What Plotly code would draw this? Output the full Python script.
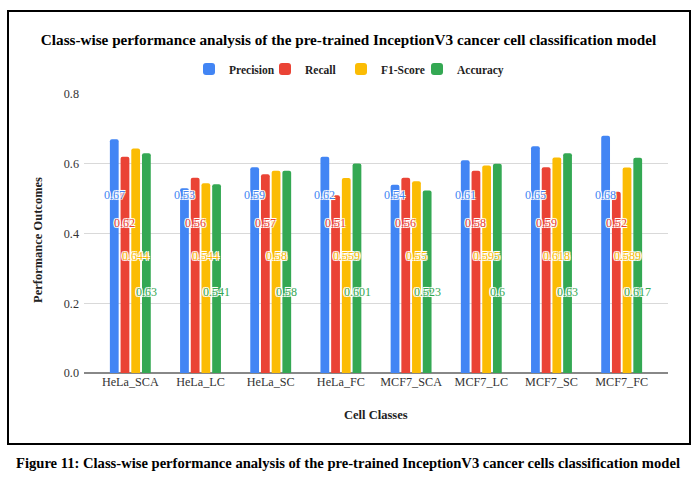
import plotly.graph_objects as go

categories = ["HeLa_SCA", "HeLa_LC", "HeLa_SC", "HeLa_FC", "MCF7_SCA", "MCF7_LC", "MCF7_SC", "MCF7_FC"]
precision = [0.67, 0.53, 0.59, 0.62, 0.54, 0.61, 0.65, 0.68]
recall = [0.62, 0.56, 0.57, 0.51, 0.56, 0.58, 0.59, 0.52]
f1_score = [0.644, 0.544, 0.58, 0.559, 0.55, 0.595, 0.618, 0.589]
accuracy = [0.63, 0.541, 0.58, 0.601, 0.523, 0.6, 0.63, 0.617]
label_text = {
    "Precision": ["0.67", "0.53", "0.59", "0.62", "0.54", "0.61", "0.65", "0.68"],
    "Recall": ["0.62", "0.56", "0.57", "0.51", "0.56", "0.58", "0.59", "0.52"],
    "F1-Score": ["0.644", "0.544", "0.58", "0.559", "0.55", "0.595", "0.618", "0.589"],
    "Accuracy": ["0.63", "0.541", "0.58", "0.601", "0.523", "0.6", "0.63", "0.617"],
}
y_ticks = [0.0, 0.2, 0.4, 0.6, 0.8]

series = [
    ("Precision", precision, "#4285F4", 0.51),
    ("Recall", recall, "#EA4335", 0.43),
    ("F1-Score", f1_score, "#FBBC04", 0.335),
    ("Accuracy", accuracy, "#34A853", 0.232),
]

SERIF = "Liberation Serif"
W, H = 697, 482
L, R, T, B = 84, 29, 94, 109
PW, PH = W - L - R, H - T - B


def px_x(px):
    return (px - L) / PW


def px_y(py):
    return (H - B - py) / PH


fig = go.Figure()
for name, vals, color, _ in series:
    fig.add_trace(go.Bar(x=categories, y=vals, name=name, marker=dict(color=color, line=dict(width=0)),
                         hoverinfo="x+y+name"))
# invisible spacer legend entry so the last legend label is not clipped by entrywidth
fig.add_trace(go.Scatter(x=[None], y=[None], name=" ", mode="markers",
                         marker=dict(color="rgba(0,0,0,0)", size=1), hoverinfo="skip"))

# data labels (staggered, white outline)
slot_px = 10.75
shadow = "-1px -1px 0 #fff, 1px -1px 0 #fff, -1px 1px 0 #fff, 1px 1px 0 #fff, 0 0 2px #fff"
for i, (name, vals, color, ly) in enumerate(series):
    off = (i - 1.5) * slot_px
    for cat, txt in zip(categories, label_text[name]):
        fig.add_annotation(x=cat, y=ly, text=txt, showarrow=False, xshift=off,
                           font=dict(family=SERIF, size=12, color=color, shadow=shadow))

# outer frame
fig.add_shape(type="rect", xref="paper", yref="paper", x0=px_x(8), x1=px_x(690), y0=px_y(444), y1=px_y(11),
              line=dict(color="black", width=2), fillcolor="rgba(0,0,0,0)", layer="below")

# axis titles
fig.add_annotation(xref="paper", yref="paper", x=px_x(376), y=px_y(415), text="<b>Cell Classes</b>",
                   showarrow=False, xanchor="center", yanchor="middle",
                   font=dict(family=SERIF, size=12.5, color="#222"))
fig.add_annotation(xref="paper", yref="paper", x=px_x(38), y=px_y(240), text="<b>Performance Outcomes</b>",
                   showarrow=False, xanchor="center", yanchor="middle", textangle=-90,
                   font=dict(family=SERIF, size=12.5, color="#222"))

# caption
fig.add_annotation(xref="paper", yref="paper", x=px_x(348), y=px_y(463),
                   text="<b>Figure 11: Class-wise performance analysis of the pre-trained InceptionV3 cancer cells classification model</b>",
                   showarrow=False, xanchor="center", yanchor="middle",
                   font=dict(family=SERIF, size=14.6, color="black"))

fig.update_layout(
    width=W, height=H,
    margin=dict(l=L, r=R, t=T, b=B, autoexpand=False),
    paper_bgcolor="white", plot_bgcolor="white",
    barmode="group", bargap=0.39, bargroupgap=0.18, barcornerradius=2,
    title=dict(text="<b>Class-wise performance analysis of the pre-trained InceptionV3 cancer cell classification model</b>",
               x=0.5, xref="container", xanchor="center", y=1 - 40 / H, yref="container", yanchor="middle",
               font=dict(family=SERIF, size=15.2, color="black")),
    legend=dict(orientation="h", xref="container", x=189 / W, xanchor="left",
                yref="container", y=1 - 69 / H, yanchor="middle",
                font=dict(family=SERIF, size=11.5, color="#222", weight="bold"),
                itemsizing="constant", traceorder="normal", itemwidth=30,
                entrywidth=31, entrywidthmode="pixels", itemclick=False, itemdoubleclick=False),
    xaxis=dict(automargin=False, range=[-0.66, 7.66], tickfont=dict(family=SERIF, size=12.2, color="#333"),
               showline=False, ticks="", showgrid=False),
    yaxis=dict(automargin=False, range=[0, 0.8], tickvals=y_ticks, ticktext=[f"{v:.1f}" for v in y_ticks],
               tickfont=dict(family=SERIF, size=12.2, color="#333"), ticklabelstandoff=4,
               gridcolor="#d9d9d9", gridwidth=1, zeroline=True, zerolinecolor="#888", zerolinewidth=2,
               ticks="", showline=False),
    showlegend=True,
)

fig.write_html("out.html", config={"displayModeBar": False},
               post_script="document.body.style.margin='0';document.body.style.overflow='hidden';")
